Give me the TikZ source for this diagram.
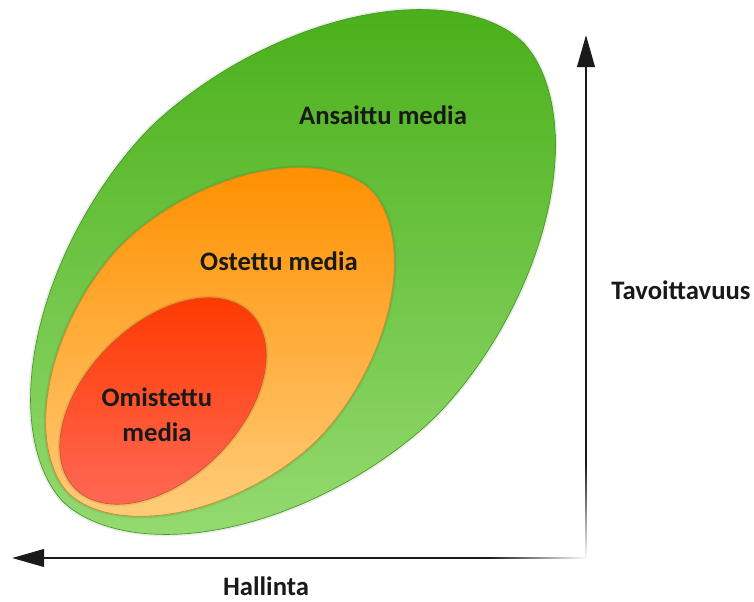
\documentclass[tikz,border=0pt]{standalone}
\usepackage{fontspec}
\setmainfont{Carlito}
\usepackage{tikz}
\usetikzlibrary{positioning, arrows.meta, fadings}
\definecolor{greentop}{HTML}{4AB01A}
\definecolor{greenbot}{HTML}{94DA70}
\definecolor{greenedge}{HTML}{3F9C18}
\definecolor{orangetop}{HTML}{FF9000}
\definecolor{orangebot}{HTML}{FFCC78}
\definecolor{orangeedge}{HTML}{C98A2E}
\definecolor{redtop}{HTML}{FF3A00}
\definecolor{redbot}{HTML}{FF6855}
\definecolor{rededge}{HTML}{C8582E}
\definecolor{axisgray}{HTML}{1A1A1A}
\tikzfading[name=fade bottom, top color=transparent!0, bottom color=transparent!100]
\tikzfading[name=fade right, left color=transparent!0, right color=transparent!100]

\begin{document}
\begin{tikzpicture}[x=0.75pt, y=-0.75pt,
                  declare function={eu(\t)=cos(\t)*pow(abs(cos(\t)),0.11);
                    ev(\t)=sin(\t)*pow(abs(sin(\t)),0.11);},
                  blob/.style={draw=#1edge, line width=0.5pt, top color=#1top, bottom color=#1bot,
                    preaction={draw=black, draw opacity=0.08, line width=3pt}},
                  lbl/.style={font=\bfseries\fontsize{20}{26}\selectfont, text=black!90, inner sep=0pt},
                  axis/.style={draw=axisgray, line width=2.2pt, -{Triangle[length=24pt, width=13pt]}},
                  axisfade/.style={draw=axisgray, line width=2.2pt}
                  ]
                  \useasboundingbox (0,0) rectangle (754,601);
                  % the three media areas
                  \path[blob=green] plot[domain=1:361, samples=91, smooth]
                    ({293 + 0.7071*(325*eu(\x) + 203*ev(\x))}, {272 + 0.7071*(-325*eu(\x) + 203*ev(\x))}) -- cycle;
                  \path[blob=orange] plot[domain=1:361, samples=91, smooth]
                    ({220 + 0.7071*(214*eu(\x) + 138*ev(\x))}, {342 + 0.7071*(-214*eu(\x) + 138*ev(\x))}) -- cycle;
                  \path[blob=red] plot[domain=1:361, samples=91, smooth]
                    ({163 + 0.7071*(124*cos(\x) + 77*sin(\x))}, {401 + 0.7071*(-124*cos(\x) + 77*sin(\x))}) -- cycle;
                  \node[lbl] (earned) at (383,115) {Ansaittu media};
                  \node[lbl] (paid)   at (279,261) {Ostettu media};
                  \node[lbl, align=center] (owned) at (157,415) {Omistettu\\media};
                  % axes
                  \coordinate (corner) at (586,558);
                  \coordinate (ytip)   at (586,35);
                  \coordinate (xtip)   at (12,558);
                  \coordinate (yfade)  at (586,465);
                  \coordinate (xfade)  at (490,558);
                  \draw[axis] (yfade) -- (ytip);
                  \draw[axis] (xfade) -- (xtip);
                  \draw[axisfade, path fading=fade bottom] (yfade) -- (corner);
                  \draw[axisfade, path fading=fade right] (xfade) -- (corner);
                  \node[lbl] (reach)   at (681,290) {Tavoittavuus};
                  \node[lbl, anchor=base] (control) at (266,595) {Hallinta};
                \end{tikzpicture}
\end{document}
